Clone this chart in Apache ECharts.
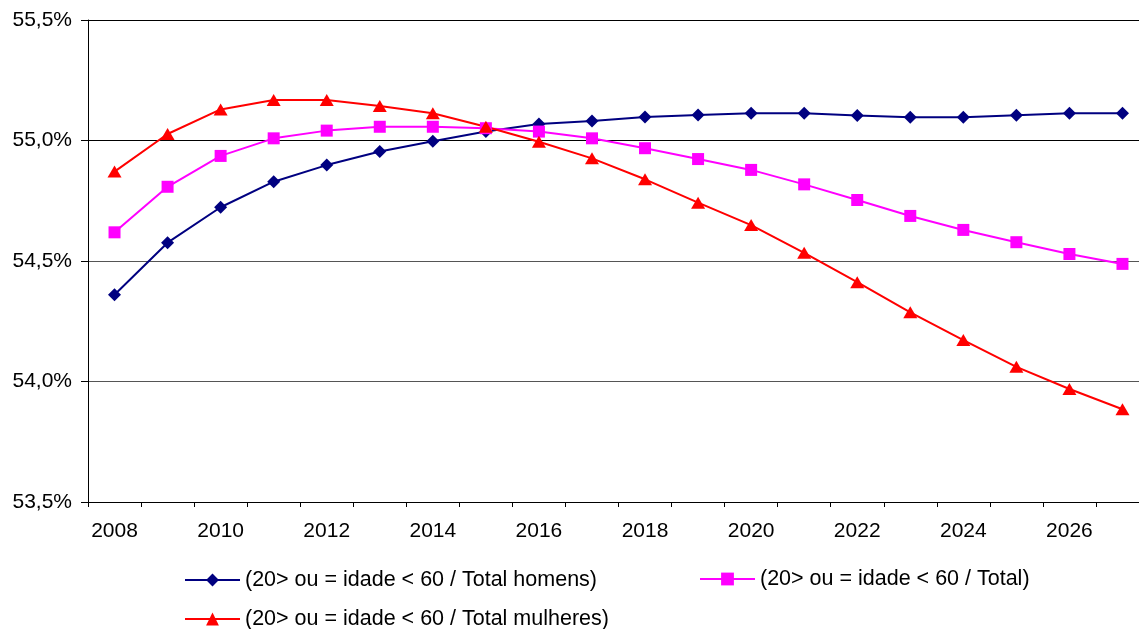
<!DOCTYPE html>
<html>
<head>
<meta charset="utf-8">
<title>20-60 / Total</title>
<script src="https://cdn.jsdelivr.net/npm/echarts@6/dist/echarts.min.js"></script>
<style>
  html, body { margin: 0; padding: 0; background: #fff; }
  #chart { width: 1139px; height: 629px; }
</style>
</head>
<body>
<div id="chart"></div>
<script>
// anos (eixo x)
const years = ['2008', '2009', '2010', '2011', '2012', '2013', '2014', '2015', '2016', '2017',
  '2018', '2019', '2020', '2021', '2022', '2023', '2024', '2025', '2026', '2027'];

const seriesNames = [
  '(20> ou = idade < 60 / Total homens)',
  '(20> ou = idade < 60 / Total)',
  '(20> ou = idade < 60 / Total mulheres)'
];

// valores em %
const homens = [54.36, 54.576, 54.723, 54.829, 54.898, 54.954, 54.997, 55.037, 55.068, 55.081,
  55.098, 55.106, 55.113, 55.113, 55.104, 55.096, 55.096, 55.105, 55.113, 55.113];
const total = [54.619, 54.808, 54.936, 55.009, 55.041, 55.057, 55.057, 55.051, 55.037, 55.009,
  54.968, 54.923, 54.878, 54.818, 54.753, 54.687, 54.629, 54.578, 54.529, 54.488];
const mulheres = [54.871, 55.027, 55.129, 55.168, 55.168, 55.143, 55.113, 55.057, 54.995, 54.926,
  54.839, 54.742, 54.649, 54.534, 54.412, 54.287, 54.172, 54.061, 53.969, 53.885];

const font = "'Liberation Sans', Arial, sans-serif";

const chart = echarts.init(document.getElementById('chart'), null, { renderer: 'canvas' });

const legendBase = {
  orient: 'horizontal',
  padding: 0,
  itemWidth: 55,
  itemHeight: 16,
  textStyle: { fontFamily: font, fontSize: 21.5, color: '#000' },
  selectedMode: false
};

const option = {
  animation: false,
  backgroundColor: '#fff',
  // a área do gráfico passa um pouco da borda direita, como no original
  grid: { left: 88, top: 20, width: 1061, height: 482, outerBoundsMode: 'none' },
  legend: [
    Object.assign({}, legendBase, { data: [seriesNames[0]], left: 184, top: 569 }),
    Object.assign({}, legendBase, { data: [seriesNames[1]], left: 699, top: 568 }),
    Object.assign({}, legendBase, { data: [seriesNames[2]], left: 184, top: 608 })
  ],
  xAxis: {
    type: 'category',
    data: years,
    boundaryGap: true,
    axisLine: { lineStyle: { color: '#000', width: 1 } },
    axisTick: { show: true, interval: 0, length: 5, lineStyle: { color: '#000' } },
    axisLabel: { interval: 1, margin: 19, fontFamily: font, fontSize: 21, color: '#000' },
    splitLine: { show: false }
  },
  yAxis: {
    type: 'value',
    min: 53.5,
    max: 55.5,
    interval: 0.5,
    axisLine: { show: true, lineStyle: { color: '#000', width: 1 } },
    axisTick: { show: true, length: 7, lineStyle: { color: '#000' } },
    axisLabel: {
      margin: 16,
      fontFamily: font,
      fontSize: 21,
      color: '#000',
      formatter: v => v.toFixed(1).replace('.', ',') + '%'
    },
    splitLine: { show: true, lineStyle: { color: ['#000', '#555', '#555', '#000', '#000'], width: 1 } }
  },
  series: [
    {
      name: seriesNames[0],
      type: 'line',
      data: homens,
      symbol: 'diamond',
      symbolSize: [13, 13],
      lineStyle: { color: '#000080', width: 2 },
      itemStyle: { color: '#000080' }
    },
    {
      name: seriesNames[1],
      type: 'line',
      data: total,
      symbol: 'rect',
      symbolSize: 12,
      lineStyle: { color: '#FF00FF', width: 2 },
      itemStyle: { color: '#FF00FF' }
    },
    {
      name: seriesNames[2],
      type: 'line',
      data: mulheres,
      symbol: 'triangle',
      symbolSize: [14, 12],
      lineStyle: { color: '#FF0000', width: 2 },
      itemStyle: { color: '#FF0000' }
    }
  ]
};

chart.setOption(option);
</script>
</body>
</html>
